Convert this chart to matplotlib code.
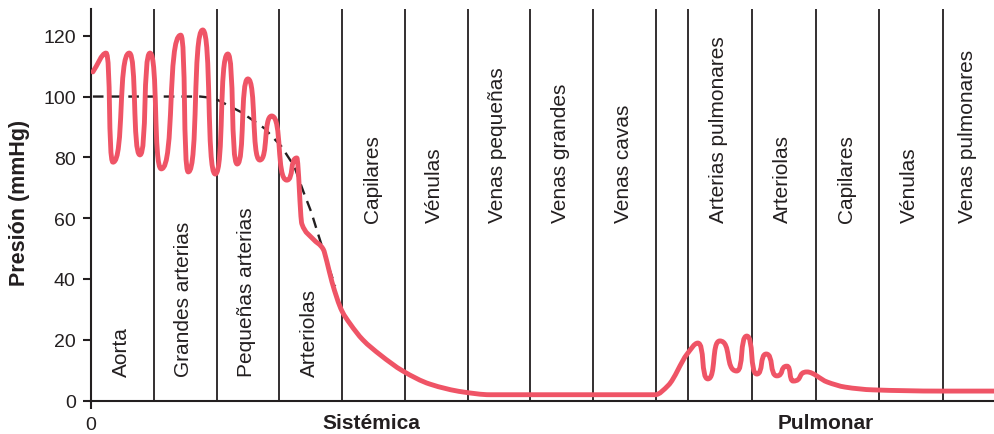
import matplotlib
matplotlib.use("Agg")
import matplotlib.pyplot as plt
import numpy as np
from matplotlib.path import Path
from matplotlib.patches import PathPatch
from matplotlib.transforms import blended_transform_factory

plt.rcParams['font.family'] = ['Liberation Sans', 'DejaVu Sans']

# compartimentos (límites en unidades de posición, 1 = un compartimento)
sist_labels = ['Aorta', 'Grandes arterias', 'Pequeñas arterias', 'Arteriolas',
               'Capilares', 'Vénulas', 'Venas pequeñas', 'Venas grandes', 'Venas cavas']
sist_edges = [0, 1, 2, 3, 4, 5, 6, 7, 8, 9]
pulm_labels = ['Arterias pulmonares', 'Arteriolas', 'Capilares', 'Vénulas', 'Venas pulmonares']
pulm_edges = [9.52, 10.53, 11.55, 12.56, 13.57, 14.39]

# presión instantánea (mmHg)
pos = [0.03, 0.24, 0.35, 0.61, 0.78, 0.94, 1.12, 1.43, 1.55, 1.78, 1.98, 2.18, 2.33,
       2.50, 2.69, 2.88, 3.12, 3.28, 3.36, 3.54, 3.70, 3.76, 3.84, 4.00, 4.13, 4.33, 4.61,
       4.97, 5.40, 5.93, 6.36, 8.99, 9.20, 9.50, 9.67, 9.83, 10.02, 10.29, 10.45,
       10.61, 10.76, 10.93, 11.09, 11.19, 11.41, 11.73, 12.02, 12.46, 13.53, 14.39]
pres = [108.1, 114.3, 78.4, 114.3, 80.8, 114.3, 76.2, 120.2, 75.2, 121.9, 74.5, 114.0, 77.8,
        105.8, 79.1, 93.6, 72.5, 79.8, 58.1, 53.1, 49.8, 45.6, 39.0, 29.4, 25.2, 20.0, 15.0,
        9.7, 5.4, 2.8, 1.9, 1.9, 5.0, 15.3, 18.9, 7.1, 19.6, 9.7, 21.2,
        8.7, 15.3, 8.1, 11.3, 6.4, 9.4, 6.1, 4.4, 3.5, 3.1, 3.1]

# presión media
pos_media = [0.03, 1.74, 1.96, 2.39, 2.76, 3.03, 3.24, 3.39, 3.51, 3.60, 3.76, 3.89]
pres_media = [100, 100, 99.5, 94.9, 89.6, 83.7, 77.0, 68.4, 62.0, 56.0, 45.6, 37.7]


def smooth_path(x, y):
    # Bezier cúbica con pendientes monótonas (tipo PCHIP) por los puntos leídos
    x = np.asarray(x, float)
    y = np.asarray(y, float)
    n = len(x)
    h = np.diff(x)
    sec = np.diff(y) / h
    d = np.zeros(n)
    d[0], d[-1] = sec[0], sec[-1]
    for i in range(1, n - 1):
        s0, s1 = sec[i - 1], sec[i]
        if s0 * s1 > 0:
            w1 = 2 * h[i] + h[i - 1]
            w2 = h[i] + 2 * h[i - 1]
            d[i] = (w1 + w2) / (w1 / s0 + w2 / s1)
    ext = np.zeros(n, bool)
    ext[1:-1] = (y[1:-1] - y[:-2]) * (y[1:-1] - y[2:]) > 0
    verts = [(x[0], y[0])]
    codes = [Path.MOVETO]
    for i in range(n - 1):
        k = 0.7 if (ext[i] and ext[i + 1]) else 1 / 3
        verts += [(x[i] + k * h[i], y[i] + d[i] * k * h[i]),
                  (x[i + 1] - k * h[i], y[i + 1] - d[i + 1] * k * h[i]),
                  (x[i + 1], y[i + 1])]
        codes += [Path.CURVE4] * 3
    return Path(verts, codes)


fig = plt.figure(figsize=(9.94, 4.35), dpi=100)
ax = fig.add_axes([91 / 994, 33.5 / 435, 903 / 994, 391.5 / 435])
ax.set_xlim(0, 14.39)
ax.set_ylim(0, 128.8)

linec = '#231f20'
for e in sist_edges[1:] + pulm_edges[:-1]:
    ax.axvline(e, color=linec, lw=1.3, zorder=1)

for i, lab in enumerate(sist_labels):
    xc = (sist_edges[i] + sist_edges[i + 1]) / 2 if i + 1 < len(sist_edges) else 8.5
    yb = 8 if i < 4 else 58.7
    ax.text(xc - 0.02, yb, lab, rotation=90, ha='center', va='bottom', fontsize=15, color=linec)
for i, lab in enumerate(pulm_labels):
    xc = (pulm_edges[i] + pulm_edges[i + 1]) / 2
    ax.text(xc - 0.02, 58.7, lab, rotation=90, ha='center', va='bottom', fontsize=15, color=linec)

ax.plot(pos_media, pres_media, color=linec, lw=1.7, dashes=(4.5, 3), zorder=3)
ax.add_patch(PathPatch(smooth_path(pos, pres), fill=False, edgecolor='#ef5466',
                       lw=3.5, capstyle='round', joinstyle='round', zorder=4))

for s in ['top', 'right']:
    ax.spines[s].set_visible(False)
for s in ['left', 'bottom']:
    ax.spines[s].set_linewidth(1.5)
    ax.spines[s].set_color(linec)
ax.set_yticks([0, 20, 40, 60, 80, 100, 120])
ax.set_xticks([0])
ax.tick_params(axis='both', direction='out', length=6, width=1.5, color=linec,
               labelsize=14, labelcolor=linec, pad=5)

tr = blended_transform_factory(ax.transData, ax.transAxes)
ax.text(4.46, -0.055, 'Sistémica', transform=tr, ha='center', va='center',
        fontsize=15, fontweight='bold', color=linec)
ax.text(11.71, -0.055, 'Pulmonar', transform=tr, ha='center', va='center',
        fontsize=15, fontweight='bold', color=linec)
fig.text(20 / 994, 1 - 203 / 435, 'Presión (mmHg)', rotation=90, ha='center', va='center',
         fontsize=15.5, fontweight='bold', color=linec)

fig.savefig('out.png', dpi=100)
